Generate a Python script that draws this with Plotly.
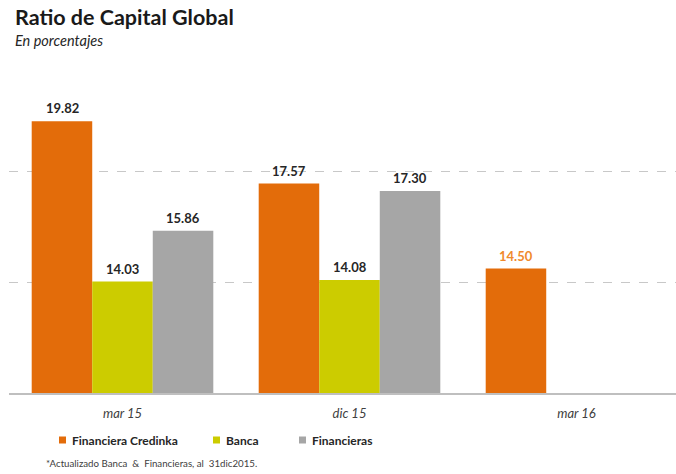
import plotly.graph_objects as go

# Periods and capital ratio values (%)
periods = ["mar 15", "dic 15", "mar 16"]
series_names = ["Financiera Credinka", "Banca", "Financieras"]
credinka = [19.82, 17.57, 14.50]
banca = [14.03, 14.08, None]
financieras = [15.86, 17.30, None]
series_colors = ["#E36C0A", "#CCCC00", "#A6A6A6"]
label_colors = [["#262626", "#262626", "#F08A2C"], "#262626", "#262626"]

title_text = "Ratio de Capital Global"
subtitle_text = "En porcentajes"
footnote_text = "*Actualizado Banca\u00a0 &\u00a0 Financieras, al\u00a0 31dic2015."

W, H = 676, 474
FONT = "Lato"
BAR_PX = 60.5  # width of a single bar in the group, pixels

fig = go.Figure()
value_labels = []
all_series = [credinka, banca, financieras]
for i, (name, vals, color, lcol) in enumerate(zip(series_names, all_series,
                                                  series_colors, label_colors)):
    fig.add_trace(go.Bar(
        name=name,
        x=periods,
        y=[v - 10 if v is not None else None for v in vals],
        base=10,
        marker=dict(color=color, line=dict(width=0)),
        showlegend=False,
        hoverinfo="skip",
    ))
    cols = lcol if isinstance(lcol, list) else [lcol] * len(vals)
    for p, v, c in zip(periods, vals, cols):
        if v is None:
            continue
        value_labels.append(dict(
            x=p, y=v, xref="x", yref="y", text=f"<b>{v:.2f}</b>",
            xshift=(i - 1) * BAR_PX, yshift=3, yanchor="bottom",
            showarrow=False,
            font=dict(family=FONT, size=13, color=c)))

fig.update_layout(
    width=W, height=H,
    margin=dict(l=9, r=0, t=61, b=81),
    paper_bgcolor="white", plot_bgcolor="white",
    barmode="group", bargap=0.2, bargroupgap=0,
    showlegend=False,
    font=dict(family=FONT, color="#262626"),
    xaxis=dict(
        range=[-0.5, -0.5 + 667 / 227],
        showgrid=False, zeroline=False,
        showline=True, linecolor="#BFBFBF", linewidth=1.5,
        ticks="", ticklabelstandoff=8,
        tickfont=dict(family=FONT, size=13, color="#404040", style="italic"),
    ),
    yaxis=dict(
        range=[10, 22],
        tickvals=[14, 18],
        showticklabels=False,
        showgrid=True, gridcolor="#C8C8C8", griddash="dash", gridwidth=1,
        zeroline=False, showline=False,
    ),
)

annotations = [
    dict(text=f"<b>{title_text}</b>", x=13, y=17,
         font=dict(family=FONT, size=21.5, color="#1A1A1A")),
    dict(text=f"<i>{subtitle_text}</i>", x=13, y=40,
         font=dict(family=FONT, size=14.5, color="#262626")),
    dict(text=footnote_text, x=44, y=463,
         font=dict(family=FONT, size=9.7, color="#404040")),
]

# Legend drawn as colored squares with bold labels
legend_x = [59, 213, 299]
legend_y = 440
legend_shapes = []
plot_w = W - 9
plot_h = H - 61 - 81
for name, color, lx in zip(series_names, series_colors, legend_x):
    legend_shapes.append(dict(
        type="rect", xref="paper", yref="paper",
        x0=(lx - 9) / plot_w, x1=(lx - 2) / plot_w,
        y0=(H - 81 - (legend_y + 3.5)) / plot_h,
        y1=(H - 81 - (legend_y - 3.5)) / plot_h,
        line=dict(width=0), fillcolor=color))
    annotations.append(dict(text=f"<b>{name}</b>", x=lx + 11, y=legend_y,
                            font=dict(family=FONT, size=12, color="#262626")))

# pixel positions -> paper coordinates
for a in annotations:
    px, py = a["x"], a["y"]
    a.update(x=(px - 9) / plot_w, y=(H - 81 - py) / plot_h,
             xref="paper", yref="paper", xanchor="left", yanchor="middle",
             showarrow=False)

fig.update_layout(annotations=annotations + value_labels, shapes=legend_shapes)

fig.write_html("out.html")
